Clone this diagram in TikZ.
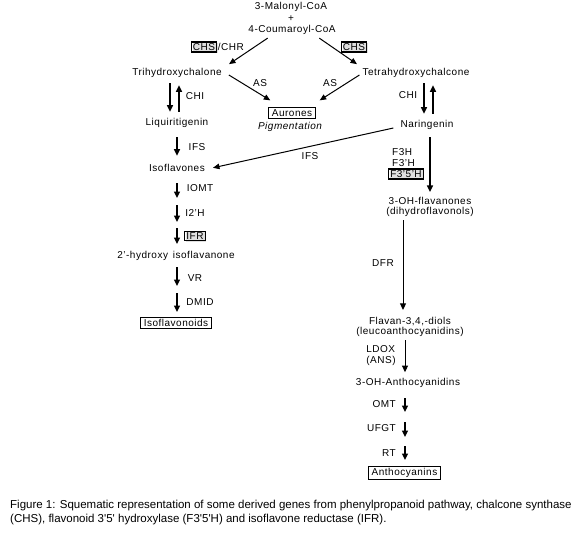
\documentclass[tikz,border=0pt]{standalone}
\usepackage{fontspec}
\setmainfont{Liberation Sans}[LetterSpace=5]
\newfontfamily\capfont{Liberation Sans}
\usetikzlibrary{arrows.meta,shadows}
\tikzset{
	met/.style={inner sep=1pt, font=\fontsize{10}{10.5}\selectfont},
	enz/.style={inner sep=1pt, font=\fontsize{10}{10.5}\selectfont},
	endbox/.style={met, draw, line width=0.6pt, inner xsep=3.5pt, inner ysep=1.8pt},
	genebox/.style={enz, draw, line width=1.1pt, inner xsep=1.5pt, inner ysep=1.5pt,
		drop shadow={shadow xshift=1.2pt, shadow yshift=-1.2pt, opacity=0.25}},
	stepar/.style={-{Triangle[length=6.5pt,width=6pt]}, line width=1.3pt},
	diag/.style={-{Triangle[length=6.5pt,width=5.5pt]}, line width=1pt},
}

\begin{document}
\begin{tikzpicture}[x=1pt,y=-1pt]
				  \useasboundingbox (0,0) rectangle (577,547);
				  %PRECURSORS
				  \node[met] (mal) at (291,7) {3-Malonyl-CoA};
				  \node[met] (plus) at (291,19) {+};
				  \node[met] (cou) at (292,30) {4-Coumaroyl-CoA};
				  
				  %CHALCONES
				  \node[met] (tri) at (177,73) {Trihydroxychalone};
				  \node[met] (tetra) at (416,73) {Tetrahydroxychalcone};
				  \node[genebox] (chsA) at (204,47) {CHS};
				  \node[enz, anchor=west, inner xsep=0.6pt] (chr) at (chsA.east) {/CHR};
				  \node[genebox] (chsB) at (354,47) {CHS};
				  \draw[diag, shorten <=4pt] ([xshift=-21pt]cou.south) -- ([xshift=52pt,yshift=3pt]tri.north);
				  \draw[diag, shorten <=4pt] ([xshift=24pt]cou.south) -- ([xshift=-59pt,yshift=3pt]tetra.north);
				  
				  %AURONES
				  \node[endbox] (aur) at (292,113) {Aurones};
				  \node[met, font=\fontsize{10}{10.5}\selectfont\itshape] (pig) at (290,127) {Pigmentation};
				  \node[enz] (asA) at (260,83) {AS};
				  \node[enz] (asB) at (330,83) {AS};
				  \draw[diag, shorten >=2pt] ([xshift=6pt,yshift=-2pt]tri.east) -- ([xshift=-20pt,yshift=6pt]aur.north);
				  \draw[diag, shorten >=2pt] ([xshift=-2pt,yshift=-2pt]tetra.west) -- ([xshift=26pt,yshift=6pt]aur.north);
				  
				  %ISOFLAVONOID BRANCH
				  \node[met] (liq) at (177,123) {Liquiritigenin};
				  \node[enz] (chiA) at (195,96) {CHI};
				  \draw[stepar, shorten <=4.5pt, shorten >=5.5pt] ([xshift=-7pt]tri.south) -- ([xshift=-7pt]liq.north);
				  \draw[stepar, shorten <=5.5pt, shorten >=6.5pt] ([xshift=2pt]liq.north) -- ([xshift=2pt]tri.south);
				  \node[met] (iso) at (177,168) {Isoflavones};
				  \node[enz] (ifsA) at (197,147) {IFS};
				  \draw[stepar, shorten <=8.5pt, shorten >=7.5pt] (liq.south) -- (iso.north);
				  
				  \coordinate (l1) at (177,183);
				  \coordinate (l2) at (177,198);
				  \coordinate (l3) at (177,205);
				  \coordinate (l4) at (177,222);
				  \coordinate (l5) at (177,228);
				  \coordinate (l6) at (177,244);
				  \node[enz] (iomt) at (200,188) {IOMT};
				  \node[enz] (i2h) at (195,213) {I2'H};
				  \node[genebox] (ifr) at (195,236) {IFR};
				  \draw[stepar] (l1) -- (l2);
				  \draw[stepar] (l3) -- (l4);
				  \draw[stepar] (l5) -- (l6);
				  \node[met] (hyd) at (176,256) {2'-hydroxy\, isoflavanone};
				  
				  \coordinate (l7) at (177,267);
				  \coordinate (l8) at (177,286);
				  \coordinate (l9) at (177,293);
				  \coordinate (l10) at (177,312);
				  \node[enz] (vr) at (195,278) {VR};
				  \node[enz] (dmid) at (200,302) {DMID};
				  \draw[stepar] (l7) -- (l8);
				  \draw[stepar] (l9) -- (l10);
				  \node[endbox] (isof) at (176,323) {Isoflavonoids};
				  
				  %ANTHOCYANIN BRANCH
				  \node[met] (nar) at (427,125) {Naringenin};
				  \node[enz] (chiB) at (408,95) {CHI};
				  \draw[stepar, shorten <=4.5pt, shorten >=5.5pt] ([xshift=8pt]tetra.south) -- ([xshift=-3pt]nar.north);
				  \draw[stepar, shorten <=5.5pt, shorten >=6.5pt] ([xshift=6pt]nar.north) -- ([xshift=17pt]tetra.south);
				  \draw[diag, shorten >=1pt] ([xshift=-6pt,yshift=-3pt]nar.west) -- ([xshift=6pt]iso.east);
				  \node[enz] (ifsB) at (310,156) {IFS};
				  
				  \node[met, align=center] (flav) at (430,207) {3-OH-flavanones\\(dihydroflavonols)};
				  \node[enz, anchor=west] (f3h) at (391,152) {F3H};
				  \node[enz, anchor=west] (f3ph) at (391,163) {F3'H};
				  \node[genebox] (f35h) at (406,174) {F3'5'H};
				  \draw[stepar, shorten <=6.5pt] (nar.south -| flav.north) -- ([yshift=4pt]flav.north);
				  
				  \node[met, align=center] (diol) at (410,327) {Flavan-3,4,-diols\\(leucoanthocyanidins)};
				  \node[enz] (dfr) at (383,263) {DFR};
				  \draw[stepar, line width=1pt, shorten <=2pt] ([xshift=-7pt]diol.north |- flav.south) -- ([xshift=-7pt,yshift=6pt]diol.north);
				  
				  \node[met] (ant) at (408,383) {3-OH-Anthocyanidins};
				  \node[enz, align=left] (ldox) at (381,355.5) {LDOX\\(ANS)};
				  \draw[stepar, line width=1pt, shorten <=2pt] ([xshift=-5pt]diol.south) -- ([xshift=-3pt,yshift=5pt]ant.north);
				  
				  \coordinate (r1) at (405,398);
				  \coordinate (r2) at (405,412);
				  \coordinate (r3) at (405,422);
				  \coordinate (r4) at (405,437);
				  \coordinate (r5) at (405,446);
				  \coordinate (r6) at (405,460);
				  \node[enz, anchor=east] (omt) at (397,404) {OMT};
				  \node[enz, anchor=east] (ufgt) at (397,428) {UFGT};
				  \node[enz, anchor=east] (rt) at (397,453) {RT};
				  \draw[stepar] (r1) -- (r2);
				  \draw[stepar] (r3) -- (r4);
				  \draw[stepar] (r5) -- (r6);
				  \node[endbox] (anth) at (404.5,473) {Anthocyanins};
				  
				  %CAPTION
				  \node[anchor=north west, align=left, inner sep=0pt, font=\capfont\fontsize{11.5}{13.5}\selectfont] (cap) at (10,500)
				  {Figure 1: Squematic representation of some derived genes from phenylpropanoid pathway, chalcone synthase\\
				  (CHS), flavonoid 3'5' hydroxylase (F3'5'H) and isoflavone reductase (IFR).};
\end{tikzpicture}
\end{document}
